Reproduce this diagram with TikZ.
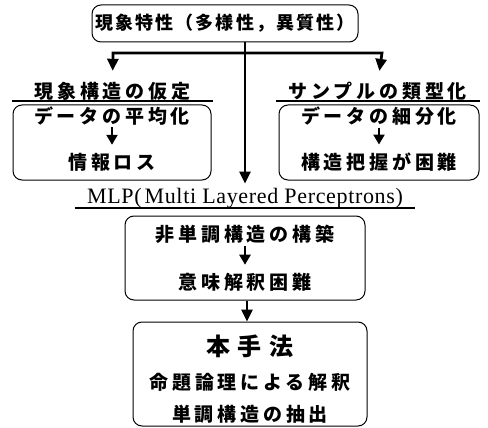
\documentclass[tikz,border=0pt]{standalone}
\usepackage{fontspec}
\usetikzlibrary{arrows.meta}
\newfontfamily\jpA[LetterSpace=12]{Noto Sans CJK JP}
\newfontfamily\jpB[LetterSpace=20]{Noto Sans CJK JP}
\newfontfamily\jpC[LetterSpace=30]{Noto Sans CJK JP}
\newfontfamily\serifsp[LetterSpace=3]{Liberation Serif}
\begin{document}
\begin{tikzpicture}[x=1pt,y=-1pt,
  box/.style={draw, rounded corners=9pt, line width=1pt, inner sep=0},
  conn/.style={line width=2.7pt},
  bigtip/.style={-{Triangle[width=11pt,length=12pt]}},
  smallarr/.style={line width=2.4pt,-{Triangle[width=11pt,length=10pt]}},
  jtxt/.style={inner sep=0, font=\jpB\bfseries\fontsize{19}{19}\selectfont},
  lab/.style={inner xsep=0, inner ysep=0, minimum height=20pt},
  uline/.style={line width=2.2pt},
]
\useasboundingbox (0,0) rectangle (488,428);

% top box
\node[box, minimum width=266pt, minimum height=37pt,
      font=\jpA\bfseries\fontsize{18}{18}\selectfont] (top) at (225,23.5) {現象特性（多様性，異質性）};

\coordinate (jc) at (245,53);
\coordinate (jl) at (113,53);
\coordinate (jr) at (382,53);

% labels
\node[lab, minimum width=201pt, font=\jpB\bfseries\fontsize{19}{19}\selectfont] (llab) at (112.5,91) {現象構造の仮定};
\node[lab, minimum width=203pt, font=\jpB\bfseries\fontsize{19}{19}\selectfont] (rlab) at (378,91) {サンプルの類型化};
\draw[uline] (llab.south west) -- (llab.south east);
\draw[uline] (rlab.south west) -- (rlab.south east);

% side boxes
\node[box, minimum width=198pt, minimum height=75pt] (lbox) at (112,142.5) {};
\node[box, minimum width=200pt, minimum height=75pt] (rbox) at (379,142.5) {};
\node[jtxt] (l1) at (112,116) {データの平均化};
\node[jtxt] (l2) at (112,162) {情報ロス};
\node[jtxt] (r1) at (379,116) {データの細分化};
\node[jtxt] (r2) at (379,162) {構造把握が困難};
\draw[smallarr, shorten <=2pt, shorten >=8pt] (l1.south) -- (l2.north);
\draw[smallarr, shorten <=2pt, shorten >=8pt] (r1.south) -- (r2.north);

% MLP label
\node[inner sep=0, minimum width=340pt, anchor=base, font=\serifsp\fontsize{22}{22}\selectfont] (mlab) at (245,204) {MLP(\hspace{3pt}Multi Layered Perceptrons)};
\draw[uline] ([yshift=-4pt]mlab.base west) -- ([yshift=-4pt]mlab.base east);

% connectors from top
\draw[conn] (top.south -| jc) -- (jc);
\draw[conn, bigtip, shorten >=10pt] (jc) -- (jl) -- (llab.north);
\draw[conn, bigtip, shorten >=10pt] (jc) -- (jr) -- (rlab.north);
\draw[conn, bigtip, shorten >=5pt] (jc) -- (jc |- mlab.north);

% MLP box
\node[box, minimum width=240pt, minimum height=84pt] (mbox) at (245,258) {};
\node[jtxt] (m1) at (245,234) {非単調構造の構築};
\node[jtxt] (m2) at (245,282) {意味解釈困難};
\draw[smallarr, shorten <=3pt, shorten >=8pt] (m1.south) -- (m2.north);

% bottom box
\coordinate (ax) at (247,0);
\node[box, minimum width=234pt, minimum height=104pt] (hbox) at (250,374) {};
\node[inner sep=0, font=\jpC\bfseries\fontsize{24}{24}\selectfont] (h1) at (250,346) {本手法};
\node[jtxt] (h2) at (250,382) {命題論理による解釈};
\node[jtxt] (h3) at (250,414) {単調構造の抽出};
\draw[conn, bigtip] (mbox.south -| ax) -- (hbox.north -| ax);
\end{tikzpicture}
\end{document}
